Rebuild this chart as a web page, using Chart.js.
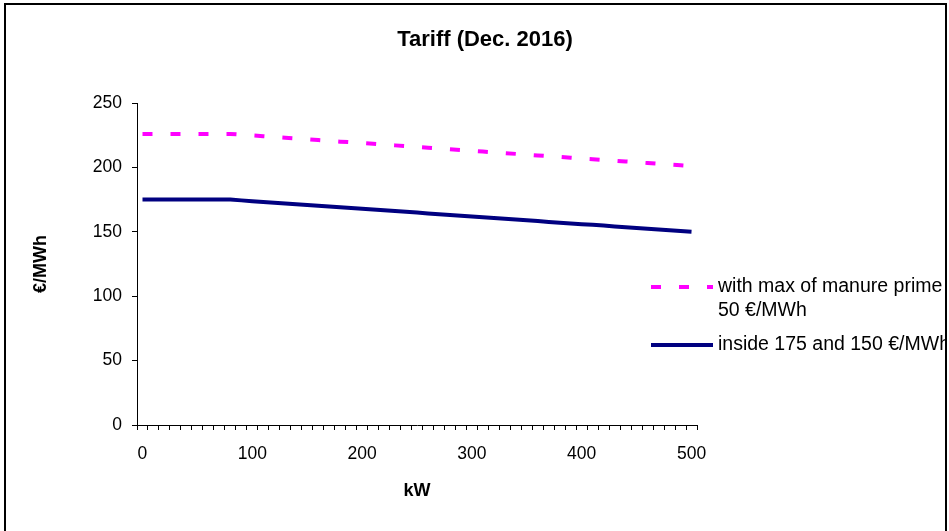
<!DOCTYPE html>
<html>
<head>
<meta charset="utf-8">
<title>Tariff (Dec. 2016)</title>
<script src="https://cdn.jsdelivr.net/npm/chart.js@4.4.1/dist/chart.umd.min.js"></script>
<style>
  html, body { margin: 0; padding: 0; background: #ffffff; }
  #wrap { width: 949px; height: 531px; overflow: hidden; }
</style>
</head>
<body>
<div id="wrap"><canvas id="tariffChart" width="949" height="531"></canvas></div>
<script>
/* ==========================================
   TARIFF (DEC. 2016) - kW vs EUR/MWh
   ========================================== */

const chartTitle = 'Tariff (Dec. 2016)';
const xTitle = 'kW';
const yTitle = '€/MWh';

// plant size, kW (one category every 10 kW)
const kwLabels = [
    0, 10, 20, 30, 40, 50, 60, 70, 80, 90,
    100, 110, 120, 130, 140, 150, 160, 170, 180, 190,
    200, 210, 220, 230, 240, 250, 260, 270, 280, 290,
    300, 310, 320, 330, 340, 350, 360, 370, 380, 390,
    400, 410, 420, 430, 440, 450, 460, 470, 480, 490,
    500
];

// with max of manure prime 50 €/MWh
const manureValues = [
    226.0, 226.0, 226.0, 226.0, 226.0, 226.0, 226.0, 226.0, 226.0, 225.4,
    224.8, 224.2, 223.6, 223.0, 222.4, 221.8, 221.2, 220.6, 220.0, 219.5,
    218.9, 218.3, 217.7, 217.1, 216.5, 215.9, 215.3, 214.7, 214.1, 213.5,
    212.9, 212.3, 211.7, 211.1, 210.5, 209.9, 209.3, 208.7, 208.1, 207.5,
    206.9, 206.4, 205.8, 205.2, 204.6, 204.0, 203.4, 202.8, 202.2, 201.6,
    201.0
];

// inside 175 and 150 €/MWh
const baseValues = [
    175.0, 175.0, 175.0, 175.0, 175.0, 175.0, 175.0, 175.0, 175.0, 174.4,
    173.8, 173.2, 172.6, 172.0, 171.4, 170.8, 170.2, 169.6, 169.0, 168.5,
    167.9, 167.3, 166.7, 166.1, 165.5, 164.9, 164.3, 163.7, 163.1, 162.5,
    161.9, 161.3, 160.7, 160.1, 159.5, 158.9, 158.3, 157.7, 157.1, 156.5,
    155.9, 155.4, 154.8, 154.2, 153.6, 153.0, 152.4, 151.8, 151.2, 150.6,
    150.0
];

const seriesLabels = ['with max of manure prime\n50 €/MWh', 'inside 175 and 150 €/MWh'];
const yTicks = [0, 50, 100, 150, 200, 250];

const FONT = '"Liberation Sans", Arial, sans-serif';

// Title, legend on the right and the frame (Excel style)
const excelDecor = {
    id: 'excelDecor',
    afterDraw(chart) {
        const ctx = chart.ctx;
        ctx.save();

        ctx.fillStyle = '#000000';
        ctx.textAlign = 'center';
        ctx.textBaseline = 'middle';
        ctx.font = 'bold 22px ' + FONT;
        ctx.fillText(chartTitle, 485, 40);

        // legend, clipped by the frame like the original
        ctx.save();
        ctx.beginPath();
        ctx.rect(0, 0, 945, 531);
        ctx.clip();
        const rows = [287, 345];
        ctx.textAlign = 'left';
        ctx.font = '19.5px ' + FONT;
        chart.data.datasets.forEach((ds, i) => {
            const y = rows[i];
            ctx.beginPath();
            ctx.strokeStyle = ds.borderColor;
            ctx.lineWidth = ds.borderWidth;
            ctx.setLineDash(ds.borderDash || []);
            ctx.moveTo(651, y);
            ctx.lineTo(713, y);
            ctx.stroke();
            ctx.setLineDash([]);
            ctx.fillStyle = '#000000';
            ds.label.split('\n').forEach((line, j) => {
                ctx.fillText(line, 718, y + j * 24);
            });
        });
        ctx.restore();

        ctx.strokeStyle = '#000000';
        ctx.lineWidth = 2;
        ctx.strokeRect(5, 4, 941, 600);

        ctx.restore();
    }
};

const ctx = document.getElementById('tariffChart');

new Chart(ctx, {
    type: 'line',
    data: {
        labels: kwLabels,
        datasets: [{
            label: seriesLabels[0],
            data: manureValues,
            borderColor: '#FF00FF',
            borderWidth: 4,
            borderDash: [10, 18],
            pointRadius: 0,
            tension: 0,
            fill: false
        }, {
            label: seriesLabels[1],
            data: baseValues,
            borderColor: '#000080',
            borderWidth: 4,
            pointRadius: 0,
            tension: 0,
            fill: false
        }]
    },
    options: {
        responsive: false,
        devicePixelRatio: 1,
        animation: false,
        layout: {
            padding: { top: 103, right: 252, left: 0, bottom: 0 }
        },
        plugins: {
            legend: { display: false },
            title: { display: false },
            tooltip: { enabled: false }
        },
        scales: {
            x: {
                type: 'category',
                offset: true,
                afterFit: (scale) => { scale.height = 106; },
                grid: {
                    offset: true,
                    drawOnChartArea: false,
                    color: '#000000',
                    tickLength: 5
                },
                border: { display: true, color: '#000000', width: 1 },
                ticks: {
                    autoSkip: false,
                    maxRotation: 0,
                    color: '#000000',
                    padding: 14,
                    font: { family: FONT, size: 17.5 },
                    callback: function (value, index) {
                        return kwLabels[index] % 100 === 0 ? String(kwLabels[index]) : '';
                    }
                },
                title: {
                    display: true,
                    text: xTitle,
                    color: '#000000',
                    font: { family: FONT, size: 18, weight: 'bold' },
                    padding: { top: 0, bottom: 29 }
                }
            },
            y: {
                min: 0,
                max: 250,
                afterFit: (scale) => { scale.width = 137; },
                afterBuildTicks: (scale) => {
                    scale.ticks = yTicks.map(v => ({ value: v }));
                },
                grid: {
                    drawOnChartArea: false,
                    color: '#000000',
                    tickLength: 5
                },
                border: { display: true, color: '#000000', width: 1 },
                ticks: {
                    color: '#000000',
                    padding: 10,
                    font: { family: FONT, size: 17.5 }
                },
                title: {
                    display: true,
                    text: yTitle,
                    color: '#000000',
                    font: { family: FONT, size: 18, weight: 'bold' },
                    padding: { top: 30, bottom: 0 }
                }
            }
        }
    },
    plugins: [excelDecor]
});
</script>
</body>
</html>
